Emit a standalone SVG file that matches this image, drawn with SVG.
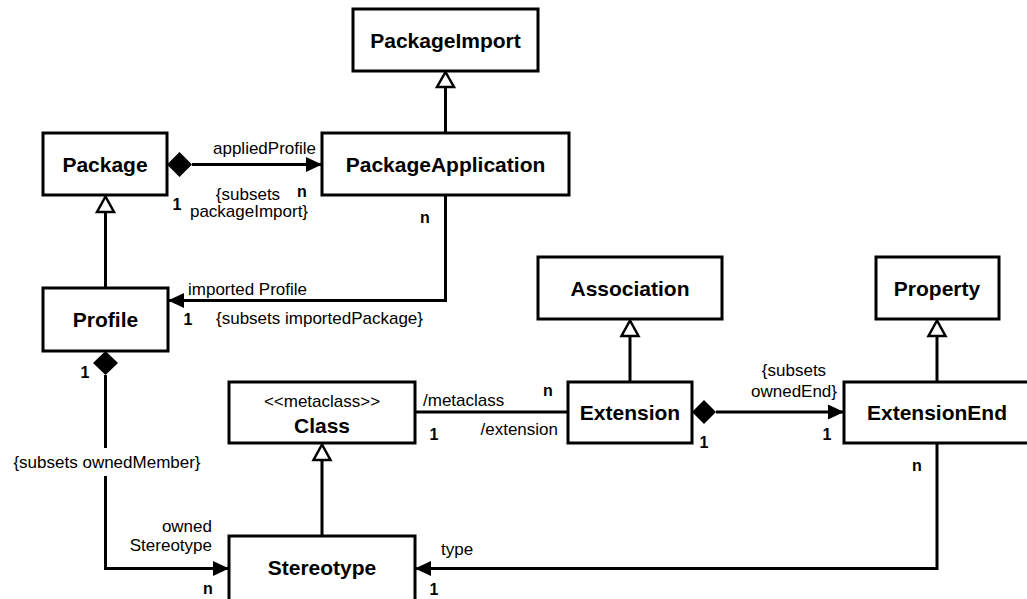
<svg xmlns="http://www.w3.org/2000/svg" width="1027" height="599" viewBox="0 0 1027 599">
  <defs>
    <style>
      .box { fill: #fff; stroke: #000; stroke-width: 3; }
      .name { font-family: "Liberation Sans", Arial, sans-serif; font-size: 21px; font-weight: bold; text-anchor: middle; fill: #000; }
      .stereo { font-family: "Liberation Sans", Arial, sans-serif; font-size: 17px; text-anchor: middle; fill: #000; }
      .lbl { font-family: "Liberation Sans", Arial, sans-serif; font-size: 17px; fill: #000; }
      .mul { font-family: "Liberation Sans", Arial, sans-serif; font-size: 16px; font-weight: bold; text-anchor: middle; fill: #000; }
      .line { fill: none; stroke: #000; stroke-width: 3; }
      .gen { fill: #fff; stroke: #000; stroke-width: 2.5; stroke-linejoin: miter; }
      .comp { fill: #000; stroke: none; }
    </style>
    <marker id="arrow" viewBox="0 0 16 16" refX="16" refY="8" markerWidth="16" markerHeight="16" markerUnits="userSpaceOnUse" orient="auto">
      <path d="M0,0.5 L16,8 L0,15.5 Z" fill="#000"/>
    </marker>
  </defs>

  <!-- connectors -->
  <g id="connectors">
    <!-- Package <>-> PackageApplication -->
    <polygon class="comp" points="167,164.5 179.5,152 192,164.5 179.5,177"/>
    <path class="line" d="M192,164.5 H322" marker-end="url(#arrow)"/>

    <!-- PackageApplication -> Profile -->
    <path class="line" d="M445.5,195 V300.5 H168" marker-end="url(#arrow)"/>

    <!-- PackageApplication generalizes PackageImport -->
    <path class="line" d="M445.5,133 V87"/>
    <polygon class="gen" points="445.5,72 454,87 437,87"/>

    <!-- Profile generalizes Package -->
    <path class="line" d="M105.5,288 V212"/>
    <polygon class="gen" points="105.5,196.5 114,212 97,212"/>

    <!-- Profile <>-> Stereotype -->
    <polygon class="comp" points="105.5,351 118,363 105.5,375 93,363"/>
    <path class="line" d="M105.5,375 V448 M105.5,476 V568.5 H229" marker-end="url(#arrow)"/>

    <!-- Stereotype generalizes Class -->
    <path class="line" d="M322,536 V460"/>
    <polygon class="gen" points="322,444.5 330.5,460 313.5,460"/>

    <!-- Class — Extension -->
    <path class="line" d="M415,412 H568"/>

    <!-- Extension generalizes Association -->
    <path class="line" d="M630,382 V336"/>
    <polygon class="gen" points="630,320.5 638.5,336 621.5,336"/>

    <!-- Extension <>-> ExtensionEnd -->
    <polygon class="comp" points="692,412 704,400 716,412 704,424"/>
    <path class="line" d="M716,412 H844" marker-end="url(#arrow)"/>

    <!-- ExtensionEnd generalizes Property -->
    <path class="line" d="M937,382 V336"/>
    <polygon class="gen" points="937,320.5 945.5,336 928.5,336"/>

    <!-- ExtensionEnd -> Stereotype -->
    <path class="line" d="M937,443 V568.5 H415" marker-end="url(#arrow)"/>

    <!-- association labels -->
    <text class="lbl" x="213" y="154">appliedProfile</text>
    <text class="lbl" x="248" y="200" text-anchor="middle">{subsets</text>
    <text class="lbl" x="249" y="217" text-anchor="middle">packageImport}</text>
    <text class="mul" x="177" y="210">1</text>
    <text class="mul" x="302" y="197">n</text>
    <text class="mul" x="425" y="223">n</text>

    <text class="lbl" x="188" y="295">imported Profile</text>
    <text class="mul" x="188" y="325">1</text>
    <text class="lbl" x="216" y="324">{subsets importedPackage}</text>

    <text class="mul" x="85" y="378">1</text>
    <text class="lbl" x="107" y="468" text-anchor="middle">{subsets ownedMember}</text>
    <text class="lbl" x="212" y="532" text-anchor="end">owned</text>
    <text class="lbl" x="212" y="551" text-anchor="end">Stereotype</text>
    <text class="mul" x="208" y="594">n</text>

    <text class="lbl" x="423" y="406">/metaclass</text>
    <text class="mul" x="434" y="440">1</text>
    <text class="lbl" x="558" y="435" text-anchor="end">/extension</text>
    <text class="mul" x="548" y="396">n</text>

    <text class="lbl" x="794" y="376" text-anchor="middle">{subsets</text>
    <text class="lbl" x="794" y="397" text-anchor="middle">ownedEnd}</text>
    <text class="mul" x="704" y="448">1</text>
    <text class="mul" x="827" y="440">1</text>
    <text class="mul" x="917" y="471">n</text>

    <text class="lbl" x="441" y="555">type</text>
    <text class="mul" x="434" y="595">1</text>
  </g>

  <!-- classes -->
  <g id="PackageImport">
    <rect class="box" x="353" y="9" width="185" height="62"/>
    <text class="name" x="445.5" y="48">PackageImport</text>
  </g>
  <g id="Package">
    <rect class="box" x="43" y="133" width="124" height="62"/>
    <text class="name" x="105" y="172">Package</text>
  </g>
  <g id="PackageApplication">
    <rect class="box" x="322" y="133" width="247" height="62"/>
    <text class="name" x="445.5" y="172">PackageApplication</text>
  </g>
  <g id="Profile">
    <rect class="box" x="43" y="288" width="125" height="63"/>
    <text class="name" x="105.5" y="327">Profile</text>
  </g>
  <g id="Association">
    <rect class="box" x="538" y="257" width="184" height="62"/>
    <text class="name" x="630" y="296">Association</text>
  </g>
  <g id="Property">
    <rect class="box" x="876" y="257" width="123" height="62"/>
    <text class="name" x="937" y="296">Property</text>
  </g>
  <g id="Class">
    <rect class="box" x="229" y="382" width="186" height="61"/>
    <text class="stereo" x="322" y="407">&lt;&lt;metaclass&gt;&gt;</text>
    <text class="name" x="322" y="433">Class</text>
  </g>
  <g id="Extension">
    <rect class="box" x="568" y="382" width="124" height="61"/>
    <text class="name" x="630" y="420">Extension</text>
  </g>
  <g id="ExtensionEnd">
    <rect class="box" x="844" y="382" width="190" height="61"/>
    <text class="name" x="937" y="420">ExtensionEnd</text>
  </g>
  <g id="Stereotype">
    <rect class="box" x="229" y="536" width="186" height="66"/>
    <text class="name" x="322" y="575">Stereotype</text>
  </g>
</svg>
